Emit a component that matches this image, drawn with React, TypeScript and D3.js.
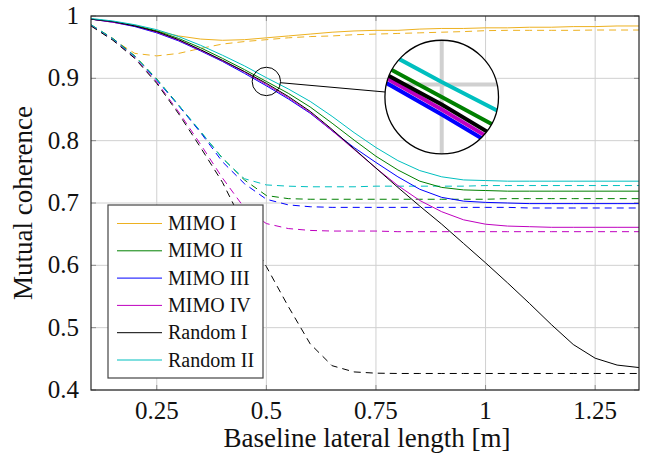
import React from "react";
import * as d3 from "d3";

// x positions (baseline lateral length, m)
const X = [0.1, 0.15, 0.2, 0.25, 0.3, 0.35, 0.4, 0.45, 0.5, 0.55, 0.6, 0.65, 0.7, 0.75, 0.8, 0.85, 0.9, 0.95, 1.0, 1.05, 1.1, 1.15, 1.2, 1.25, 1.3, 1.35];

const NAMES = ["MIMO I", "MIMO II", "MIMO III", "MIMO IV", "Random I", "Random II"];
const COLORS = ["#EDB120", "#008000", "#0000FF", "#BF00BF", "#000000", "#00BFBF"];

// solid curves
const MIMO1_SOLID = [0.995, 0.991, 0.984, 0.976, 0.968, 0.963, 0.961, 0.962, 0.965, 0.968, 0.971, 0.974, 0.976, 0.977, 0.977, 0.979, 0.98, 0.98, 0.981, 0.981, 0.982, 0.982, 0.983, 0.983, 0.984, 0.984];
const MIMO2_SOLID = [0.995, 0.991, 0.985, 0.976, 0.964, 0.949, 0.932, 0.914, 0.895, 0.876, 0.854, 0.828, 0.801, 0.775, 0.753, 0.735, 0.725, 0.721, 0.72, 0.719, 0.719, 0.719, 0.719, 0.719, 0.719, 0.719];
const MIMO3_SOLID = [0.995, 0.99, 0.983, 0.973, 0.96, 0.944, 0.927, 0.908, 0.888, 0.867, 0.844, 0.816, 0.789, 0.765, 0.742, 0.722, 0.709, 0.703, 0.701, 0.7, 0.699, 0.699, 0.699, 0.699, 0.699, 0.699];
const MIMO4_SOLID = [0.995, 0.99, 0.984, 0.974, 0.961, 0.945, 0.928, 0.91, 0.89, 0.869, 0.845, 0.816, 0.786, 0.756, 0.728, 0.704, 0.686, 0.673, 0.666, 0.663, 0.662, 0.661, 0.661, 0.661, 0.661, 0.661];
const RAND1_SOLID = [0.995, 0.991, 0.984, 0.975, 0.962, 0.946, 0.929, 0.911, 0.892, 0.871, 0.847, 0.818, 0.787, 0.756, 0.725, 0.695, 0.666, 0.635, 0.604, 0.572, 0.539, 0.505, 0.473, 0.451, 0.44, 0.436];
const RAND2_SOLID = [0.996, 0.992, 0.986, 0.978, 0.967, 0.953, 0.937, 0.92, 0.901, 0.883, 0.863, 0.839, 0.813, 0.789, 0.768, 0.752, 0.742, 0.737, 0.736, 0.735, 0.735, 0.735, 0.735, 0.735, 0.735, 0.735];

// dashed curves
const MIMO1_DASH = [0.985, 0.962, 0.94, 0.936, 0.94, 0.948, 0.955, 0.959, 0.962, 0.965, 0.967, 0.968, 0.97, 0.971, 0.972, 0.973, 0.974, 0.975, 0.9765, 0.977, 0.977, 0.977, 0.977, 0.9775, 0.9775, 0.9775];
const MIMO2_DASH = [0.986, 0.964, 0.936, 0.899, 0.857, 0.814, 0.772, 0.737, 0.712, 0.707, 0.706, 0.706, 0.706, 0.706, 0.706, 0.706, 0.706, 0.706, 0.706, 0.707, 0.707, 0.707, 0.707, 0.707, 0.707, 0.707];
const MIMO3_DASH = [0.985, 0.963, 0.935, 0.897, 0.856, 0.813, 0.766, 0.731, 0.706, 0.697, 0.694, 0.693, 0.693, 0.693, 0.693, 0.693, 0.693, 0.693, 0.693, 0.693, 0.692, 0.692, 0.692, 0.692, 0.692, 0.692];
const MIMO4_DASH = [0.985, 0.962, 0.933, 0.894, 0.846, 0.794, 0.74, 0.692, 0.667, 0.659, 0.656, 0.655, 0.655, 0.655, 0.654, 0.654, 0.654, 0.654, 0.654, 0.654, 0.654, 0.654, 0.654, 0.654, 0.654, 0.654];
const RAND1_DASH = [0.984, 0.961, 0.932, 0.892, 0.843, 0.789, 0.733, 0.663, 0.598, 0.534, 0.474, 0.439, 0.429, 0.427, 0.4265, 0.4265, 0.4265, 0.4265, 0.4265, 0.4265, 0.4265, 0.4265, 0.4265, 0.4265, 0.4265, 0.4265];
const RAND2_DASH = [0.986, 0.963, 0.935, 0.898, 0.857, 0.815, 0.771, 0.739, 0.729, 0.727, 0.726, 0.726, 0.726, 0.727, 0.727, 0.727, 0.727, 0.727, 0.728, 0.728, 0.728, 0.728, 0.728, 0.728, 0.728, 0.728];

const SOLIDS = [MIMO1_SOLID, MIMO2_SOLID, MIMO3_SOLID, MIMO4_SOLID, RAND1_SOLID, RAND2_SOLID];
const DASHES = [MIMO1_DASH, MIMO2_DASH, MIMO3_DASH, MIMO4_DASH, RAND1_DASH, RAND2_DASH];

const X_TICKS = [0.25, 0.5, 0.75, 1, 1.25];
const X_TICK_LABELS = ["0.25", "0.5", "0.75", "1", "1.25"];
const Y_TICKS = [0.4, 0.5, 0.6, 0.7, 0.8, 0.9, 1];
const Y_TICK_LABELS = ["0.4", "0.5", "0.6", "0.7", "0.8", "0.9", "1"];

// magnifier: source point and destination point in data coordinates
const SPY_SRC = [0.5, 0.895];
const SPY_DST = [0.9, 0.87];
const SPY_ZOOM = 4;

const W = 651;
const H = 460;
const L = 91, R = 639, T = 16, B = 390;
const FONT = "'Liberation Serif', 'Times New Roman', serif";

export default function App() {
  const x = d3.scaleLinear().domain([0.1, 1.35]).range([L, R]);
  const y = d3.scaleLinear().domain([0.4, 1]).range([B, T]);
  const line = d3.line<number>().x((_, i) => x(X[i])).y((v) => y(v));

  const sx = x(SPY_SRC[0]);
  const sy = y(SPY_SRC[1]);
  const bx = x(SPY_DST[0]);
  const by = y(SPY_DST[1]);
  const rSmall = 14.2;
  const rBig = rSmall * SPY_ZOOM;
  const dx = bx - sx, dy = by - sy;
  const dl = Math.hypot(dx, dy);
  const ux = dx / dl, uy = dy / dl;

  const grid = (
    <g>
      {X_TICKS.map((t) => (
        <line key={"gx" + t} x1={x(t)} x2={x(t)} y1={T} y2={B} stroke="#d0d0d0" strokeWidth={1} />
      ))}
      {Y_TICKS.map((t) => (
        <line key={"gy" + t} x1={L} x2={R} y1={y(t)} y2={y(t)} stroke="#d0d0d0" strokeWidth={1} />
      ))}
    </g>
  );

  const curves = (
    <g fill="none">
      {DASHES.map((d, i) => (
        <path key={"d" + i} d={line(d) || ""} stroke={COLORS[i]} strokeWidth={1} strokeDasharray="7,5" />
      ))}
      {SOLIDS.map((d, i) => (
        <path key={"s" + i} d={line(d) || ""} stroke={COLORS[i]} strokeWidth={1} />
      ))}
    </g>
  );

  const legendX = 108, legendY = 205, legendW = 155, legendH = 173;
  const rowY0 = 223.5, rowStep = 27.3;

  return (
    <svg width={W} height={H} style={{ position: "absolute", left: 0, top: 0, background: "#fff" }} fontFamily={FONT}>
      <defs>
        <clipPath id="plotClip">
          <rect x={L} y={T} width={R - L} height={B - T} />
        </clipPath>
        <clipPath id="magClip">
          <circle cx={bx} cy={by} r={rBig} />
        </clipPath>
      </defs>
      <rect x={0} y={0} width={W} height={H} fill="#fff" />
      {grid}
      {/* ticks */}
      <g stroke="#8c8c8c" strokeWidth={1}>
        {X_TICKS.map((t) => (
          <g key={"tx" + t}>
            <line x1={x(t)} x2={x(t)} y1={B} y2={B - 5} />
            <line x1={x(t)} x2={x(t)} y1={T} y2={T + 5} />
          </g>
        ))}
        {Y_TICKS.map((t) => (
          <g key={"ty" + t}>
            <line x1={L} x2={L + 5} y1={y(t)} y2={y(t)} />
            <line x1={R} x2={R - 5} y1={y(t)} y2={y(t)} />
          </g>
        ))}
      </g>
      <g clipPath="url(#plotClip)">{curves}</g>
      <rect x={L} y={T} width={R - L} height={B - T} fill="none" stroke="#262626" strokeWidth={1.2} />

      {/* tick labels */}
      <g fontSize={25} fill="#111">
        {X_TICKS.map((t, i) => (
          <text key={"lx" + t} x={x(t)} y={419} textAnchor="middle">{X_TICK_LABELS[i]}</text>
        ))}
        {Y_TICKS.map((t, i) => (
          <text key={"ly" + t} x={79} y={y(t) + 8} textAnchor="end">{Y_TICK_LABELS[i]}</text>
        ))}
      </g>
      <text x={(L + R) / 2 + 2} y={447} textAnchor="middle" fontSize={27} fill="#111">Baseline lateral length [m]</text>
      <text transform={`translate(32,${(T + B) / 2}) rotate(-90)`} textAnchor="middle" fontSize={27} fill="#111">Mutual coherence</text>

      {/* spy small circle and connector */}
      <circle cx={sx} cy={sy} r={rSmall} fill="none" stroke="#000" strokeWidth={1} />
      <line x1={sx + ux * rSmall} y1={sy + uy * rSmall} x2={bx - ux * rBig} y2={by - uy * rBig} stroke="#000" strokeWidth={1} />

      {/* magnified view */}
      <g clipPath="url(#magClip)">
        <circle cx={bx} cy={by} r={rBig} fill="#fff" />
        <g transform={`translate(${bx},${by}) scale(${SPY_ZOOM}) translate(${-sx},${-sy})`}>
          {grid}
          {curves}
        </g>
      </g>
      <circle cx={bx} cy={by} r={rBig} fill="none" stroke="#000" strokeWidth={1.3} />

      {/* legend */}
      <rect x={legendX} y={legendY} width={legendW} height={legendH} fill="#fff" stroke="#444" strokeWidth={1.2} />
      {NAMES.map((n, i) => (
        <g key={"lg" + i}>
          <line x1={117} x2={162} y1={rowY0 + i * rowStep} y2={rowY0 + i * rowStep} stroke={COLORS[i]} strokeWidth={1} />
          <text x={168} y={rowY0 + i * rowStep + 6.5} fontSize={20} fill="#111">{n}</text>
        </g>
      ))}
    </svg>
  );
}
